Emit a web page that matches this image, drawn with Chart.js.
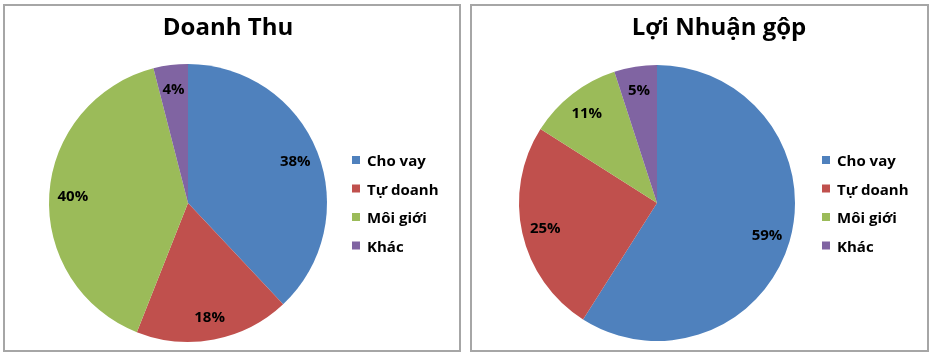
<!DOCTYPE html>
<html>
<head>
<meta charset="utf-8">
<script src="https://cdn.jsdelivr.net/npm/chart.js@4.4.0/dist/chart.umd.min.js"></script>
<style>
  html, body { margin: 0; padding: 0; background: #ffffff; width: 934px; height: 355px; overflow: hidden; }
  .box { position: absolute; top: 4px; height: 344px; border: 2px solid #a6a6a6; background: #fff; }
  #boxL { left: 3px; width: 454px; }
  #boxR { left: 470px; width: 455px; }
  canvas { display: block; }
</style>
</head>
<body>
<div class="box" id="boxL"><canvas id="c1" width="454" height="344"></canvas></div>
<div class="box" id="boxR"><canvas id="c2" width="455" height="344"></canvas></div>
<script>
const categories = ['Cho vay', 'Tự doanh', 'Môi giới', 'Khác'];
const doanhThu = [38, 18, 40, 4];
const loiNhuanGop = [59, 25, 11, 5];
const titles = ['Doanh Thu', 'Lợi Nhuận gộp'];
const sliceColors = ['#4F81BD', '#C0504D', '#9BBB59', '#8064A2'];

const FONT = '"Open Sans", "DejaVu Sans", sans-serif';

const decorPlugin = {
  id: 'decor',
  afterDatasetsDraw(chart, args, opts) {
    const ctx = chart.ctx;
    const meta = chart.getDatasetMeta(0);
    const values = chart.data.datasets[0].data;
    const total = values.reduce((a, b) => a + b, 0);
    ctx.save();
    // data labels
    ctx.fillStyle = '#000';
    ctx.font = 'bold 15px ' + FONT;
    ctx.textAlign = 'center';
    ctx.textBaseline = 'middle';
    meta.data.forEach((arc, i) => {
      const p = arc.getProps(['x', 'y', 'startAngle', 'endAngle', 'outerRadius'], true);
      const mid = (p.startAngle + p.endAngle) / 2;
      const r = p.outerRadius * opts.labelRatio;
      const pct = Math.round(values[i] / total * 100);
      ctx.fillText(pct + '%', p.x + Math.cos(mid) * r, p.y + Math.sin(mid) * r + 1);
    });
    // title
    ctx.font = 'bold 24px ' + FONT;
    ctx.textBaseline = 'alphabetic';
    ctx.fillText(opts.title, opts.titleX, opts.titleY);
    // legend
    ctx.font = 'bold 15px ' + FONT;
    ctx.textAlign = 'left';
    chart.data.labels.forEach((lab, i) => {
      const by = opts.legendY + i * opts.legendStep;
      ctx.fillStyle = sliceColors[i];
      ctx.fillRect(opts.legendX, by - 10, 8, 8);
      ctx.fillStyle = '#000';
      ctx.fillText(lab, opts.legendX + 15, by);
    });
    ctx.restore();
  }
};

function makePie(id, values, title, pad, titleX) {
  return new Chart(document.getElementById(id), {
    type: 'pie',
    data: {
      labels: categories,
      datasets: [{
        data: values,
        backgroundColor: sliceColors,
        borderWidth: 0
      }]
    },
    options: {
      responsive: false,
      animation: false,
      layout: { padding: pad },
      plugins: {
        legend: { display: false },
        title: { display: false },
        tooltip: { enabled: false },
        decor: {
          title: title,
          titleX: titleX,
          titleY: 29,
          labelRatio: 0.83,
          legendX: pad.left + 2 * 139 + 25,
          legendY: 160,
          legendStep: 28.5
        }
      }
    },
    plugins: [decorPlugin]
  });
}

makePie('c1', doanhThu, titles[0], { left: 44, top: 58, right: 132, bottom: 8 }, 223);
makePie('c2', loiNhuanGop, titles[1], { left: 47, top: 59, right: 132, bottom: 9 }, 247);
</script>
</body>
</html>
